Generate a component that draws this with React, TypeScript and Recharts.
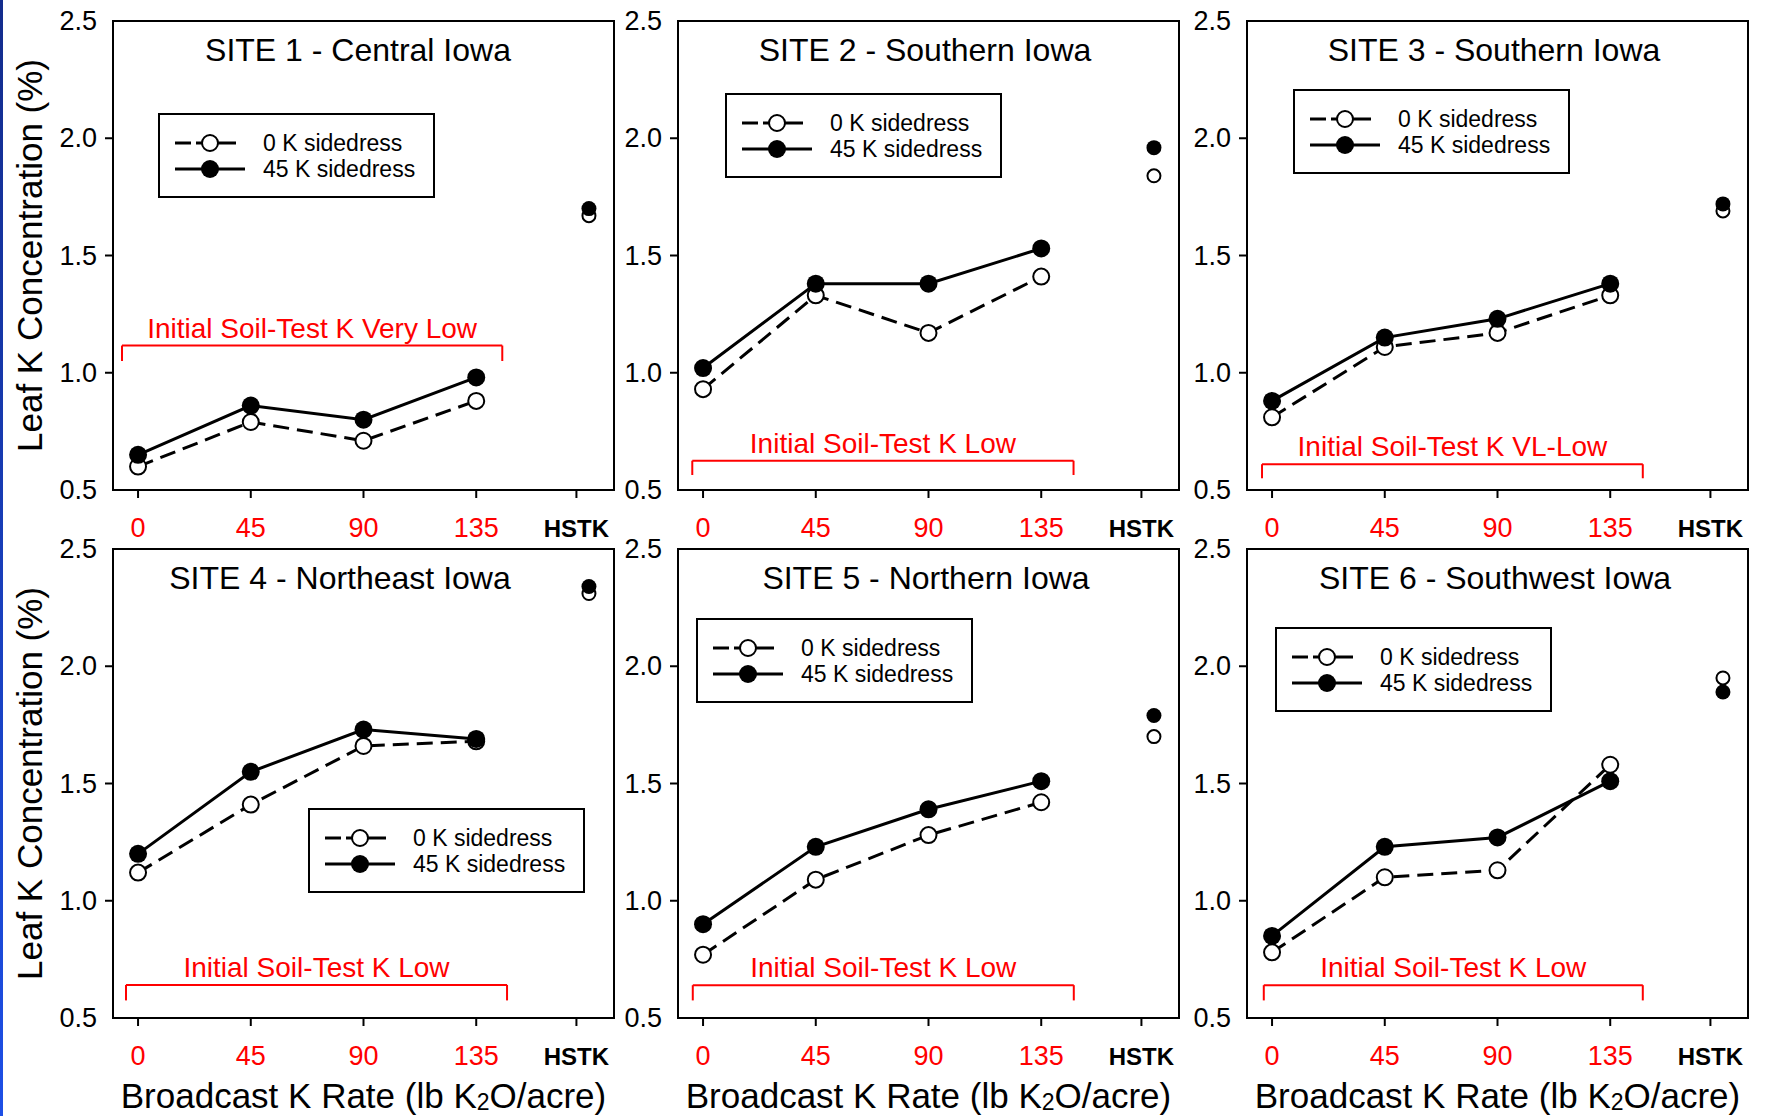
import React from "react";
import { ComposedChart, Line, XAxis, YAxis, Legend, ReferenceLine, ReferenceArea } from "recharts";

const FONT = '"Liberation Sans", Arial, Helvetica, sans-serif';
const RED = "#ff0000";

// broadcast K rates (lb K2O/acre) and the HSTK slot
const rates = [0, 45, 90, 135];
const HSTK_TICK = 175;
const HSTK_X = 180;
const xTicks = [0, 45, 90, 135, HSTK_TICK];
const yTicks = [0.5, 1.0, 1.5, 2.0, 2.5];
const rightTicks = [1.0, 1.5, 2.0];

const siteTitles = [
  "SITE 1 - Central Iowa",
  "SITE 2 - Southern Iowa",
  "SITE 3 - Southern Iowa",
  "SITE 4 - Northeast Iowa",
  "SITE 5 - Northern Iowa",
  "SITE 6 - Southwest Iowa",
];
const soilTestLabels = [
  "Initial Soil-Test K Very Low",
  "Initial Soil-Test K Low",
  "Initial Soil-Test K VL-Low",
  "Initial Soil-Test K Low",
  "Initial Soil-Test K Low",
  "Initial Soil-Test K Low",
];
const seriesNames = ["0 K sidedress", "45 K sidedress"];

// leaf K (%) at 0/45/90/135 broadcast
const site1NoK = [0.6, 0.79, 0.71, 0.88];
const site1K45 = [0.65, 0.86, 0.8, 0.98];
const site2NoK = [0.93, 1.33, 1.17, 1.41];
const site2K45 = [1.02, 1.38, 1.38, 1.53];
const site3NoK = [0.81, 1.11, 1.17, 1.33];
const site3K45 = [0.88, 1.15, 1.23, 1.38];
const site4NoK = [1.12, 1.41, 1.66, 1.68];
const site4K45 = [1.2, 1.55, 1.73, 1.69];
const site5NoK = [0.77, 1.09, 1.28, 1.42];
const site5K45 = [0.9, 1.23, 1.39, 1.51];
const site6NoK = [0.78, 1.1, 1.13, 1.58];
const site6K45 = [0.85, 1.23, 1.27, 1.51];

// HSTK treatment, sites 1-6
const hstkNoK = [1.67, 1.84, 1.69, 2.31, 1.7, 1.95];
const hstkK45 = [1.7, 1.96, 1.72, 2.34, 1.79, 1.89];

// layout
const COL_X = [113, 678, 1247];
const ROW_Y = [21, 549];
const PW = 501;
const PH = 469;
const ML = 60;
const MT = 20;
const MR = 10;
const XH = 70;

const panels = [
  { col: 0, row: 0, noK: site1NoK, k45: site1K45, legend: [105, 112], titleX: 358, bracket: [-6.4, 145.4, 1.116, 1.05] },
  { col: 1, row: 0, noK: site2NoK, k45: site2K45, legend: [107, 92], titleX: 925, bracket: [-4.3, 147.9, 0.625, 0.564] },
  { col: 2, row: 0, noK: site3NoK, k45: site3K45, legend: [106, 88], titleX: 1494, bracket: [-4, 148, 0.61, 0.55] },
  { col: 0, row: 1, noK: site4NoK, k45: site4K45, legend: [255, 279], titleX: 340, bracket: [-4.8, 147.3, 0.641, 0.575] },
  { col: 1, row: 1, noK: site5NoK, k45: site5K45, legend: [78, 89], titleX: 926, bracket: [-4.1, 148, 0.64, 0.575] },
  { col: 2, row: 1, noK: site6NoK, k45: site6K45, legend: [88, 98], titleX: 1495, bracket: [-3.3, 148, 0.64, 0.575] },
];

const XTick = ({ x, y, payload }: any) => {
  const v = payload.value;
  const hstk = v === HSTK_TICK;
  return (
    <text
      x={x}
      y={y + 28}
      textAnchor="middle"
      dominantBaseline="central"
      fontFamily={FONT}
      fontSize={hstk ? 24 : 27}
      fontWeight={hstk ? 700 : 400}
      fill={hstk ? "#000" : RED}
    >
      {hstk ? "HSTK" : v}
    </text>
  );
};

// left labels; tick marks only for inner values
const YTick = ({ x, y, payload }: any) => {
  const v = payload.value;
  const inner = v > 0.5 && v < 2.5;
  return (
    <g>
      <text x={x} y={y} textAnchor="end" dominantBaseline="central" fontFamily={FONT} fontSize={27} fill="#000">
        {Number(v).toFixed(1)}
      </text>
      {inner && <line x1={x + 8} x2={x + 16} y1={y} y2={y} stroke="#000" strokeWidth={2} />}
    </g>
  );
};

const LegendBox = ({ payload }: any) => {
  const items = (payload || []).filter((p: any) => p.dataKey === "k0" || p.dataKey === "k45");
  return (
    <div style={{ width: 277, height: 85, border: "2px solid #000", background: "#fff", boxSizing: "border-box" }}>
      <svg width={273} height={81} style={{ display: "block" }}>
        {items.map((it: any, i: number) => {
          const cy = 28 + i * 26;
          const open = it.dataKey === "k0";
          return (
            <g key={it.dataKey}>
              {open ? (
                <>
                  <line x1={15} x2={31} y1={cy} y2={cy} stroke="#000" strokeWidth={3} />
                  <line x1={36} x2={76} y1={cy} y2={cy} stroke="#000" strokeWidth={3} />
                  <circle cx={50} cy={cy} r={8} fill="#fff" stroke="#000" strokeWidth={2} />
                </>
              ) : (
                <>
                  <line x1={15} x2={85} y1={cy} y2={cy} stroke="#000" strokeWidth={3} />
                  <circle cx={50} cy={cy} r={9} fill="#000" />
                </>
              )}
              <text x={103} y={cy} dominantBaseline="central" fontFamily={FONT} fontSize={23} fill="#000">
                {it.value}
              </text>
            </g>
          );
        })}
      </svg>
    </div>
  );
};

function Panel({ p, idx }: any) {
  const rows: any[] = rates.map((x, i) => ({ x, k0: p.noK[i], k45: p.k45[i] }));
  rows.push({ x: HSTK_X, h0: hstkNoK[idx], h45: hstkK45[idx] });
  const [bx1, bx2, byTop, byEnd] = p.bracket;
  const left = COL_X[p.col] - ML;
  const top = ROW_Y[p.row] - MT;
  const axisStroke = { stroke: "#000", strokeWidth: 2 };

  return (
    <div style={{ position: "absolute", left, top }}>
      <ComposedChart
        width={ML + PW + MR}
        height={MT + PH + XH}
        data={rows}
        margin={{ top: MT, right: MR, left: 0, bottom: 0 }}
      >
        <XAxis
          xAxisId="b"
          dataKey="x"
          type="number"
          domain={[-10, 190]}
          ticks={xTicks}
          interval={0}
          height={XH}
          tickSize={8}
          tickLine={axisStroke}
          axisLine={axisStroke}
          tick={<XTick />}
        />
        <YAxis
          yAxisId="l"
          type="number"
          domain={[0.5, 2.5]}
          ticks={yTicks}
          interval={0}
          width={ML}
          tickSize={8}
          tickMargin={8}
          tickLine={false}
          axisLine={axisStroke}
          tick={<YTick />}
        />
        <YAxis
          yAxisId="r"
          orientation="right"
          mirror
          type="number"
          domain={[0.5, 2.5]}
          ticks={rightTicks}
          interval={0}
          width={1}
          tickSize={8}
          tick={false}
          tickLine={axisStroke}
          axisLine={axisStroke}
        />
        {/* plot frame */}
        <ReferenceArea
          xAxisId="b"
          yAxisId="l"
          x1={-10}
          x2={190}
          y1={0.5}
          y2={2.5}
          fill="none"
          fillOpacity={0}
          stroke="#000"
          strokeWidth={2}
          strokeOpacity={1}
        />
        <ReferenceLine xAxisId="b" yAxisId="l" segment={[{ x: bx1, y: byEnd }, { x: bx1, y: byTop }]} stroke={RED} strokeWidth={2} />
        <ReferenceLine
          xAxisId="b"
          yAxisId="l"
          segment={[{ x: bx1, y: byTop }, { x: bx2, y: byTop }]}
          stroke={RED}
          strokeWidth={2}
          label={{ value: soilTestLabels[idx], position: "top", offset: 8, fill: RED, fontSize: 28, fontFamily: FONT }}
        />
        <ReferenceLine xAxisId="b" yAxisId="l" segment={[{ x: bx2, y: byTop }, { x: bx2, y: byEnd }]} stroke={RED} strokeWidth={2} />
        <Line
          xAxisId="b"
          yAxisId="l"
          dataKey="k0"
          name={seriesNames[0]}
          stroke="#000"
          strokeWidth={3}
          strokeDasharray="16 8"
          dot={{ r: 8, fill: "#fff", stroke: "#000", strokeWidth: 2, strokeDasharray: "" }}
          activeDot={false}
          isAnimationActive={false}
        />
        <Line
          xAxisId="b"
          yAxisId="l"
          dataKey="k45"
          name={seriesNames[1]}
          stroke="#000"
          strokeWidth={3}
          dot={{ r: 9, fill: "#000", stroke: "none" }}
          activeDot={false}
          isAnimationActive={false}
        />
        <Line
          xAxisId="b"
          yAxisId="l"
          dataKey="h0"
          stroke="none"
          legendType="none"
          dot={{ r: 6.5, fill: "#fff", stroke: "#000", strokeWidth: 2 }}
          activeDot={false}
          isAnimationActive={false}
        />
        <Line
          xAxisId="b"
          yAxisId="l"
          dataKey="h45"
          stroke="none"
          legendType="none"
          dot={{ r: 7.5, fill: "#000", stroke: "none" }}
          activeDot={false}
          isAnimationActive={false}
        />
        <Legend
          layout="horizontal"
          verticalAlign="middle"
          align="center"
          content={<LegendBox />}
          wrapperStyle={{ left: p.legend[0], top: p.legend[1], width: 277, height: 85 }}
        />
      </ComposedChart>
    </div>
  );
}

export default function App() {
  const rowCenter = ROW_Y.map((y) => y + PH / 2);
  return (
    <div
      style={{
        position: "absolute",
        left: 0,
        top: 0,
        width: 1766,
        height: 1116,
        background: "#fff",
        overflow: "hidden",
        fontFamily: FONT,
      }}
    >
      <div
        style={{
          position: "absolute",
          left: 0,
          top: 0,
          width: 3,
          height: 1116,
          background: "linear-gradient(#132c8c, #1d4fe6)",
        }}
      />
      {panels.map((p, i) => (
        <Panel key={i} p={p} idx={i} />
      ))}
      <svg width={1766} height={1116} style={{ position: "absolute", left: 0, top: 0, pointerEvents: "none" }}>
        {panels.map((p, i) => (
          <text
            key={i}
            x={p.titleX}
            y={ROW_Y[p.row] + 29}
            textAnchor="middle"
            dominantBaseline="central"
            fontFamily={FONT}
            fontSize={32}
            fill="#000"
          >
            {siteTitles[i]}
          </text>
        ))}
        {rowCenter.map((cy, i) => (
          <text
            key={i}
            transform={`translate(29,${cy}) rotate(-90)`}
            textAnchor="middle"
            dominantBaseline="central"
            fontFamily={FONT}
            fontSize={35}
            fill="#000"
          >
            Leaf K Concentration (%)
          </text>
        ))}
        {COL_X.map((x, i) => (
          <text
            key={i}
            x={x + PW / 2}
            y={1095}
            textAnchor="middle"
            dominantBaseline="central"
            fontFamily={FONT}
            fontSize={35}
            fill="#000"
          >
            Broadcast K Rate (lb K
            <tspan fontSize={23} dy={7}>
              2
            </tspan>
            <tspan dy={-7}>O/acre)</tspan>
          </text>
        ))}
      </svg>
    </div>
  );
}
